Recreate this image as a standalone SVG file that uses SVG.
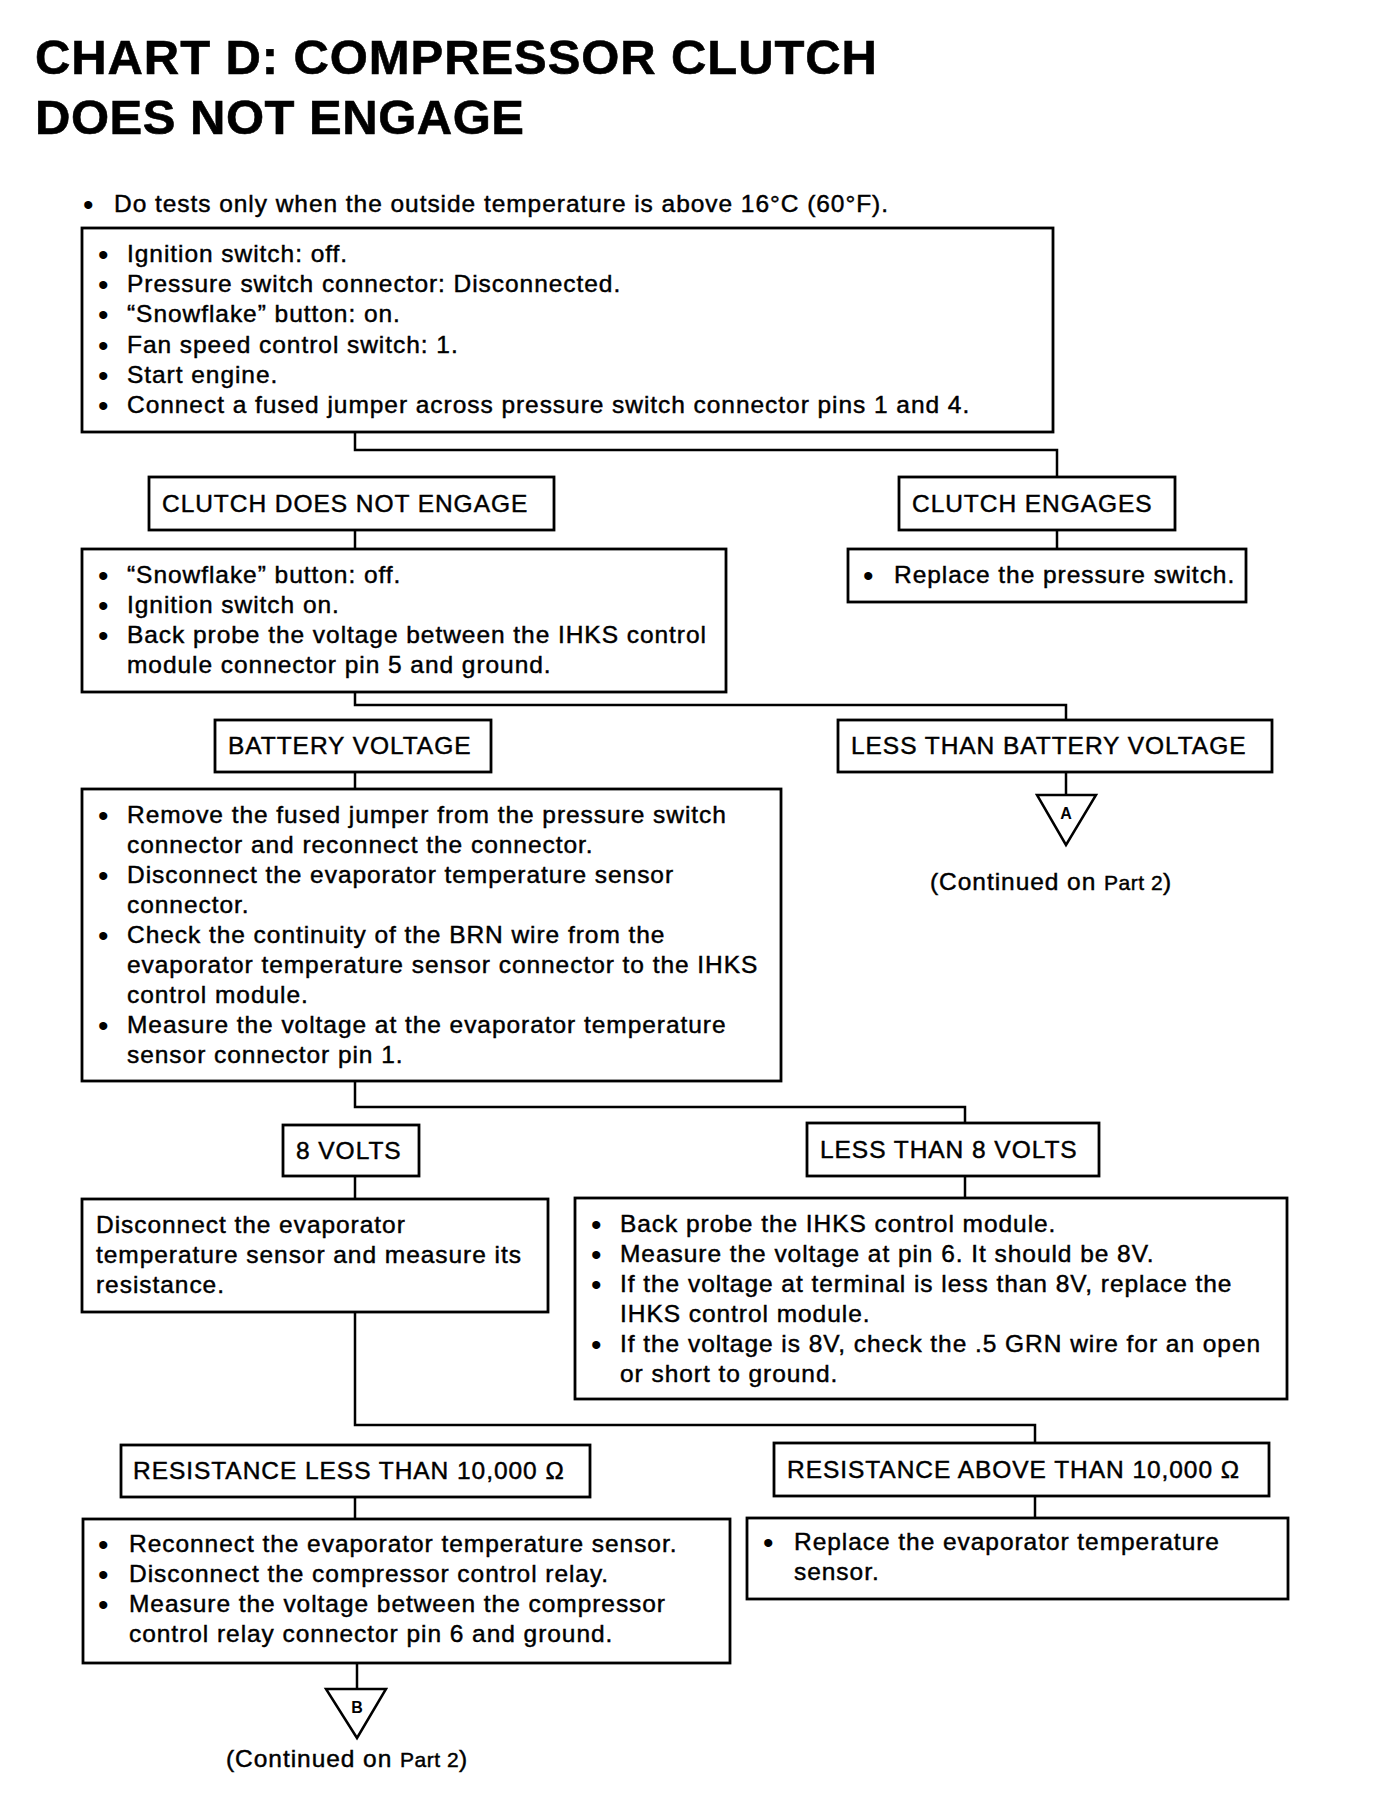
<svg xmlns="http://www.w3.org/2000/svg" width="1376" height="1800" viewBox="0 0 1376 1800">
<style>
text{font-family:"Liberation Sans",Arial,Helvetica,sans-serif;fill:#000}
.t{font-size:24.5px;letter-spacing:0.95px;stroke:#000;stroke-width:0.45px}
.b{font-size:30px}
.h{font-size:49px;font-weight:bold;stroke:#000;stroke-width:0.6px}
.s{font-size:21px;letter-spacing:0.5px}
.m{font-size:16px;font-weight:bold;text-anchor:middle}
.box{fill:#fff;stroke:#000;stroke-width:2.8}
.ln{fill:none;stroke:#000;stroke-width:2.5}
</style>
<rect width="1376" height="1800" fill="#fff"/>
<g id="title">
<text class="h" x="35" y="74" textLength="842" lengthAdjust="spacing">CHART D: COMPRESSOR CLUTCH</text>
<text class="h" x="35" y="134" textLength="489" lengthAdjust="spacing">DOES NOT ENGAGE</text>
<text class="b" x="83" y="215">•</text>
<text class="t" x="114" y="212">Do tests only when the outside temperature is above 16°C (60°F).</text>
</g>
<g id="connectors">
<path class="ln" d="M355 432V450H1057V477"/>
<path class="ln" d="M355 530V549"/>
<path class="ln" d="M1057 530V549"/>
<path class="ln" d="M355 692V705H1066V720"/>
<path class="ln" d="M355 772V789"/>
<path class="ln" d="M1066 772V795"/>
<path class="ln" d="M355 1081V1107H965V1123"/>
<path class="ln" d="M355 1176V1199"/>
<path class="ln" d="M965 1176V1198"/>
<path class="ln" d="M355 1312V1425H1035V1443"/>
<path class="ln" d="M355 1497V1519"/>
<path class="ln" d="M1035 1496V1518"/>
<path class="ln" d="M357 1663V1689"/>
</g>
<g id="n_start">
<rect class="box" x="82" y="228" width="971" height="204"/>
<text class="b" x="98" y="265">•</text><text class="t" x="127" y="262">Ignition switch: off.</text>
<text class="b" x="98" y="295">•</text><text class="t" x="127" y="292">Pressure switch connector: Disconnected.</text>
<text class="b" x="98" y="325">•</text><text class="t" x="127" y="322">“Snowflake” button: on.</text>
<text class="b" x="98" y="356">•</text><text class="t" x="127" y="353">Fan speed control switch: 1.</text>
<text class="b" x="98" y="386">•</text><text class="t" x="127" y="383">Start engine.</text>
<text class="b" x="98" y="416">•</text><text class="t" x="127" y="413">Connect a fused jumper across pressure switch connector pins 1 and 4.</text>
</g>
<g id="n_cdne">
<rect class="box" x="149" y="477" width="405" height="53"/>
<text class="t" x="162" y="512">CLUTCH DOES NOT ENGAGE</text>
</g>
<g id="n_ce">
<rect class="box" x="899" y="477" width="276" height="53"/>
<text class="t" x="912" y="512">CLUTCH ENGAGES</text>
</g>
<g id="n_replace_ps">
<rect class="box" x="848" y="549" width="398" height="53"/>
<text class="b" x="863" y="586">•</text><text class="t" x="894" y="583">Replace the pressure switch.</text>
</g>
<g id="n_probe5">
<rect class="box" x="82" y="549" width="644" height="143"/>
<text class="b" x="98" y="586">•</text><text class="t" x="127" y="583">“Snowflake” button: off.</text>
<text class="b" x="98" y="616">•</text><text class="t" x="127" y="613">Ignition switch on.</text>
<text class="b" x="98" y="646">•</text><text class="t" x="127" y="643">Back probe the voltage between the IHKS control</text>
<text class="t" x="127" y="673">module connector pin 5 and ground.</text>
</g>
<g id="n_bv">
<rect class="box" x="215" y="720" width="276" height="52"/>
<text class="t" x="228" y="754">BATTERY VOLTAGE</text>
</g>
<g id="n_ltbv">
<rect class="box" x="838" y="720" width="434" height="52"/>
<text class="t" x="851" y="754">LESS THAN BATTERY VOLTAGE</text>
</g>
<g id="n_A">
<polygon points="1037,795 1096,795 1066,845" fill="#fff" stroke="#000" stroke-width="2.5"/>
<text class="m" x="1066" y="819">A</text>
<text class="t" x="930" y="890">(Continued on <tspan class="s">Part 2</tspan>)</text>
</g>
<g id="n_checks">
<rect class="box" x="82" y="789" width="699" height="292"/>
<text class="b" x="98" y="826">•</text><text class="t" x="127" y="823">Remove the fused jumper from the pressure switch</text>
<text class="t" x="127" y="853">connector and reconnect the connector.</text>
<text class="b" x="98" y="886">•</text><text class="t" x="127" y="883">Disconnect the evaporator temperature sensor</text>
<text class="t" x="127" y="913">connector.</text>
<text class="b" x="98" y="946">•</text><text class="t" x="127" y="943">Check the continuity of the BRN wire from the</text>
<text class="t" x="127" y="973">evaporator temperature sensor connector to the IHKS</text>
<text class="t" x="127" y="1003">control module.</text>
<text class="b" x="98" y="1036">•</text><text class="t" x="127" y="1033">Measure the voltage at the evaporator temperature</text>
<text class="t" x="127" y="1063">sensor connector pin 1.</text>
</g>
<g id="n_8v">
<rect class="box" x="283" y="1125" width="136" height="51"/>
<text class="t" x="296" y="1159">8 VOLTS</text>
</g>
<g id="n_lt8v">
<rect class="box" x="807" y="1123" width="292" height="53"/>
<text class="t" x="820" y="1158">LESS THAN 8 VOLTS</text>
</g>
<g id="n_measure_res">
<rect class="box" x="82" y="1199" width="466" height="113"/>
<text class="t" x="96" y="1233">Disconnect the evaporator</text>
<text class="t" x="96" y="1263">temperature sensor and measure its</text>
<text class="t" x="96" y="1293">resistance.</text>
</g>
<g id="n_probe6">
<rect class="box" x="575" y="1198" width="712" height="201"/>
<text class="b" x="591" y="1235">•</text><text class="t" x="620" y="1232">Back probe the IHKS control module.</text>
<text class="b" x="591" y="1265">•</text><text class="t" x="620" y="1262">Measure the voltage at pin 6. It should be 8V.</text>
<text class="b" x="591" y="1295">•</text><text class="t" x="620" y="1292">If the voltage at terminal is less than 8V, replace the</text>
<text class="t" x="620" y="1322">IHKS control module.</text>
<text class="b" x="591" y="1355">•</text><text class="t" x="620" y="1352">If the voltage is 8V, check the .5 GRN wire for an open</text>
<text class="t" x="620" y="1382">or short to ground.</text>
</g>
<g id="n_rlt">
<rect class="box" x="121" y="1445" width="469" height="52"/>
<text class="t" x="133" y="1479">RESISTANCE LESS THAN 10,000 Ω</text>
</g>
<g id="n_rat">
<rect class="box" x="774" y="1443" width="495" height="53"/>
<text class="t" x="787" y="1478">RESISTANCE ABOVE THAN 10,000 Ω</text>
</g>
<g id="n_relay">
<rect class="box" x="83" y="1519" width="647" height="144"/>
<text class="b" x="98" y="1555">•</text><text class="t" x="129" y="1552">Reconnect the evaporator temperature sensor.</text>
<text class="b" x="98" y="1585">•</text><text class="t" x="129" y="1582">Disconnect the compressor control relay.</text>
<text class="b" x="98" y="1615">•</text><text class="t" x="129" y="1612">Measure the voltage between the compressor</text>
<text class="t" x="129" y="1642">control relay connector pin 6 and ground.</text>
</g>
<g id="n_replace_ets">
<rect class="box" x="747" y="1518" width="541" height="81"/>
<text class="b" x="763" y="1553">•</text><text class="t" x="794" y="1550">Replace the evaporator temperature</text>
<text class="t" x="794" y="1580">sensor.</text>
</g>
<g id="n_B">
<polygon points="326,1689 386,1689 357,1738" fill="#fff" stroke="#000" stroke-width="2.5"/>
<text class="m" x="357" y="1713">B</text>
<text class="t" x="226" y="1767">(Continued on <tspan class="s">Part 2</tspan>)</text>
</g>
</svg>
